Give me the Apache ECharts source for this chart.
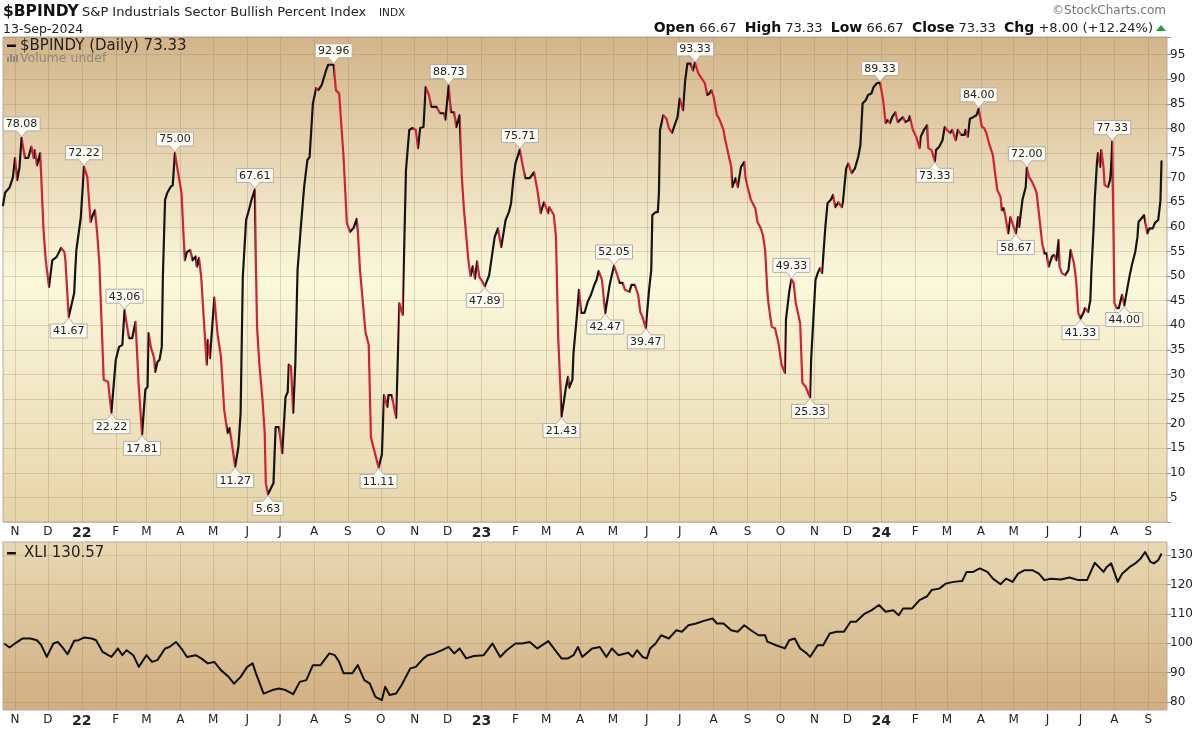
<!DOCTYPE html>
<html><head><meta charset="utf-8">
<script src="https://cdn.jsdelivr.net/npm/echarts@6/dist/echarts.min.js"></script>
<style>html,body{margin:0;padding:0;background:#fff}#c{width:1200px;height:730px}</style>
</head><body><div id="c"></div>
<script>
// ---------- DATA ----------
const bpiDates = ['2021-10-21','2021-10-23','2021-10-27','2021-10-30','2021-11-01','2021-11-03','2021-11-05','2021-11-07','2021-11-10','2021-11-13','2021-11-16','2021-11-18','2021-11-19','2021-11-21','2021-11-24','2021-11-27','2021-11-29','2021-12-02','2021-12-05','2021-12-09','2021-12-13','2021-12-16','2021-12-17','2021-12-20','2021-12-25','2021-12-26','2021-12-27','2021-12-31',
'2022-01-03','2022-01-06','2022-01-09','2022-01-11','2022-01-13','2022-01-15','2022-01-17','2022-01-21','2022-01-25','2022-01-28','2022-02-01','2022-02-04','2022-02-07','2022-02-09','2022-02-13','2022-02-16','2022-02-19','2022-02-22','2022-02-25','2022-02-28','2022-03-02','2022-03-03','2022-03-05','2022-03-08','2022-03-09','2022-03-11','2022-03-13','2022-03-15','2022-03-16','2022-03-18','2022-03-20','2022-03-23','2022-03-25','2022-03-27','2022-03-30','2022-04-02','2022-04-05','2022-04-07','2022-04-10','2022-04-12','2022-04-15','2022-04-16','2022-04-18','2022-04-20','2022-04-22','2022-04-25','2022-04-26','2022-04-28','2022-05-02','2022-05-05','2022-05-08','2022-05-11','2022-05-14','2022-05-16','2022-05-18','2022-05-21','2022-05-24','2022-05-26','2022-05-28','2022-05-31','2022-06-03','2022-06-05','2022-06-08','2022-06-09','2022-06-10','2022-06-12','2022-06-15','2022-06-17','2022-06-18','2022-06-20','2022-06-23','2022-06-25','2022-06-27','2022-06-30','2022-07-03','2022-07-06','2022-07-08','2022-07-09','2022-07-11','2022-07-13','2022-07-15','2022-07-17','2022-07-20','2022-07-23','2022-07-26','2022-07-28','2022-07-31','2022-08-03','2022-08-05','2022-08-08','2022-08-12','2022-08-14','2022-08-19','2022-08-21','2022-08-24','2022-08-28','2022-08-31','2022-09-03','2022-09-06','2022-09-09','2022-09-10','2022-09-12','2022-09-17','2022-09-20','2022-09-22','2022-09-26','2022-09-29','2022-10-02','2022-10-04','2022-10-07','2022-10-08','2022-10-11','2022-10-15','2022-10-16','2022-10-18','2022-10-21','2022-10-24','2022-10-27','2022-10-30','2022-11-02','2022-11-04','2022-11-06','2022-11-09','2022-11-11','2022-11-14','2022-11-16','2022-11-21','2022-11-24','2022-11-28','2022-11-29','2022-12-02','2022-12-04','2022-12-07','2022-12-09','2022-12-12','2022-12-14','2022-12-16','2022-12-20','2022-12-22','2022-12-24','2022-12-26','2022-12-28','2022-12-30',
'2023-01-02','2023-01-04','2023-01-08','2023-01-13','2023-01-16','2023-01-19','2023-01-23','2023-01-26','2023-01-28','2023-01-30','2023-02-01','2023-02-05','2023-02-07','2023-02-10','2023-02-14','2023-02-18','2023-02-21','2023-02-24','2023-02-27','2023-03-03','2023-03-04','2023-03-08','2023-03-10','2023-03-12','2023-03-14','2023-03-15','2023-03-17','2023-03-19','2023-03-21','2023-03-22','2023-03-25','2023-03-26','2023-03-29','2023-03-31','2023-04-02','2023-04-05','2023-04-08','2023-04-11','2023-04-14','2023-04-16','2023-04-18','2023-04-21','2023-04-24','2023-04-28','2023-04-30','2023-05-02','2023-05-05','2023-05-07','2023-05-10','2023-05-12','2023-05-16','2023-05-18','2023-05-21','2023-05-24','2023-05-26','2023-05-28','2023-05-31','2023-06-03','2023-06-05','2023-06-06','2023-06-09','2023-06-11','2023-06-12','2023-06-13','2023-06-16','2023-06-19','2023-06-21','2023-06-24','2023-06-27','2023-06-29','2023-07-01','2023-07-04','2023-07-06','2023-07-08','2023-07-11','2023-07-13','2023-07-15','2023-07-18','2023-07-21','2023-07-24','2023-07-26','2023-07-28','2023-07-30','2023-08-01','2023-08-04','2023-08-06','2023-08-10','2023-08-11','2023-08-14','2023-08-17','2023-08-18','2023-08-21','2023-08-23','2023-08-26','2023-08-29','2023-08-30','2023-09-01','2023-09-04','2023-09-08','2023-09-10','2023-09-13','2023-09-15','2023-09-17','2023-09-19','2023-09-20','2023-09-23','2023-09-26','2023-09-29','2023-10-02','2023-10-05','2023-10-06','2023-10-09','2023-10-11','2023-10-13','2023-10-15','2023-10-19','2023-10-21','2023-10-24','2023-10-28','2023-10-29','2023-10-31','2023-11-02','2023-11-04','2023-11-06','2023-11-08','2023-11-11','2023-11-13','2023-11-16','2023-11-18','2023-11-20','2023-11-23','2023-11-26','2023-11-27','2023-11-30','2023-12-02','2023-12-05','2023-12-08','2023-12-11','2023-12-13','2023-12-15','2023-12-18','2023-12-20','2023-12-23','2023-12-25','2023-12-28','2023-12-31',
'2024-01-03','2024-01-05','2024-01-07','2024-01-09','2024-01-11','2024-01-14','2024-01-16','2024-01-18','2024-01-21','2024-01-23','2024-01-26','2024-01-27','2024-01-30','2024-02-02','2024-02-05','2024-02-06','2024-02-09','2024-02-12','2024-02-13','2024-02-16','2024-02-19','2024-02-20','2024-02-23','2024-02-26','2024-02-28','2024-03-01','2024-03-04','2024-03-06','2024-03-09','2024-03-11','2024-03-14','2024-03-17','2024-03-18','2024-03-20','2024-03-22','2024-03-25','2024-03-28','2024-03-30','2024-04-02','2024-04-04','2024-04-06','2024-04-09','2024-04-12','2024-04-14','2024-04-16','2024-04-19','2024-04-20','2024-04-22','2024-04-24','2024-04-26','2024-04-28','2024-05-01','2024-05-03','2024-05-05','2024-05-06','2024-05-09','2024-05-12','2024-05-13','2024-05-15','2024-05-18','2024-05-21','2024-05-22','2024-05-24','2024-05-27','2024-05-29','2024-05-31','2024-06-02','2024-06-05','2024-06-07','2024-06-09','2024-06-11','2024-06-12','2024-06-14','2024-06-17','2024-06-20','2024-06-22','2024-06-25','2024-06-27','2024-06-29','2024-07-01','2024-07-04','2024-07-05','2024-07-08','2024-07-10','2024-07-11','2024-07-13','2024-07-14','2024-07-16','2024-07-17','2024-07-19','2024-07-20','2024-07-22','2024-07-23','2024-07-26','2024-07-28','2024-07-29','2024-07-30','2024-08-01','2024-08-03','2024-08-05','2024-08-08','2024-08-10','2024-08-13','2024-08-15','2024-08-17','2024-08-20','2024-08-22','2024-08-23','2024-08-26','2024-08-28','2024-08-29','2024-08-31','2024-09-02','2024-09-05','2024-09-07','2024-09-10','2024-09-12','2024-09-13'];
const bpiValues = [64.4,67,68,70,74,69.5,72,78.08,74,74,76.3,74,75.6,72.5,75,59.4,53.3,47.8,53.2,53.9,55.7,54.9,53.2,41.67,46.5,51.2,55.3,61.8,
72.22,70.1,61,62.4,63.4,58.7,52.6,28.9,28.5,22.22,33,35.6,36,43.06,37.4,37.4,40.7,27.5,17.81,26.9,27.5,38.4,35.6,33.3,30.5,32.5,33,35.6,49.8,65.5,66.9,68.1,68.5,75.00,70.9,66.9,53.2,54.9,55.3,53.2,54,51.9,53.7,49.8,42.7,32,37,33.3,45.6,38.1,33.7,22.8,18.1,19.1,16,11.27,15.3,22.2,49.8,61.4,63.8,65.5,67.61,52,39.7,32.4,24.8,18.1,7.9,5.63,7,7.9,19.3,19.3,14,25.4,26.4,32,31.6,22.2,32.4,51.2,60,68.1,73.6,74.2,85.1,88.2,87.8,88.8,91.8,92.96,92.96,87.8,87.1,74.2,60.8,59,59.7,61.6,59.4,51.2,38.7,36,17.2,13.7,11.11,13.7,25.8,23.4,25.8,25.8,21.2,28.9,44.5,42.1,71.5,79.7,80.1,79.7,76,80.1,80.3,88.4,86.8,84.4,84.4,83.1,83.1,81.8,88.73,83.3,83.3,80.3,82.7,70.1,63.4,53.2,50,52,49.5,53,49.8,
48.8,47.89,50.2,57.9,59.7,55.9,61.4,63,64.8,69.5,72.9,75.71,73.2,69.9,69.9,71.1,67.5,62.8,65,62.8,64,62.4,58,37.7,27.5,21.43,24.2,27.3,29.5,27.3,28.9,34.4,41.7,47.2,42.5,42.5,44.8,46.2,48.2,49.2,51,49.2,42.47,48.2,50.2,52.05,50.2,48.6,48.6,47.2,46.8,48.2,48.2,46.2,42.7,41.7,39.47,47.2,51.2,62.4,63,63,66.8,79.7,82.7,82,80.1,79.1,81.1,82.3,86.1,83.7,89.8,93.2,93.2,91.8,93.33,91.2,90.2,89.2,86.8,87.1,87.8,86.4,82.7,82,79.7,78.3,75.2,72.2,68.1,69.9,68.1,72.2,73.2,70.1,68.1,65.5,63.8,61,59.7,58.3,55.3,47,44.5,39.7,39.4,36.6,32,30.3,41.1,46.8,49.33,48.6,44.5,40.4,28.3,27.5,25.33,33,41.1,49.2,50.6,51.6,50.6,60,64.8,65.5,66.5,64,65,64,65,71.9,72.9,70.9,71.9,74.2,76.6,85.1,85.8,86.8,87.1,88.4,89.2,89.33,
85.4,81.1,81.7,81.1,82.3,83.3,81.3,81.7,82.3,81.3,81.7,82.5,79.7,78.3,76,78.3,79.7,80.7,76,75.6,73.33,75.6,76.3,77.6,80.3,79.7,79.1,79.7,77.6,79.7,78.7,78.7,79.7,78.3,82,82.3,82.7,84.00,80.3,80.1,79.1,76.6,74.6,70.9,67.5,66.1,63.4,63.8,61.4,58.7,62,60,58.67,62,60,65.5,68.1,72.00,70.1,69.1,67.5,66.8,62.8,56.7,54.6,54.6,51.9,54,54.3,53.2,57.3,51.9,50.6,50.2,51.2,55.3,52.6,49.2,42.5,41.33,42.7,43.5,42.7,45.1,51.2,60,65.5,72.9,75,72.2,75.6,72.2,68.5,68.1,69.5,72.2,77.33,44.5,43.5,43.5,46.2,44.00,47.8,50.2,52.3,54.9,57.9,61,61.8,62.4,62.4,58.7,59.7,59.7,60.8,61.4,65.33,73.33];

const xliDates = ['2021-10-22','2021-10-27','2021-11-01','2021-11-08','2021-11-15','2021-11-21','2021-11-25','2021-11-30','2021-12-06','2021-12-10','2021-12-14','2021-12-19','2021-12-25','2021-12-29','2022-01-03','2022-01-10','2022-01-14','2022-01-20','2022-01-28','2022-02-03','2022-02-07','2022-02-11','2022-02-17','2022-02-22','2022-03-01','2022-03-06','2022-03-11','2022-03-18','2022-03-22','2022-03-28','2022-04-03','2022-04-07','2022-04-15','2022-04-20','2022-04-26','2022-05-02','2022-05-08','2022-05-15','2022-05-20','2022-05-26','2022-06-01','2022-06-06','2022-06-09','2022-06-16','2022-06-24','2022-06-30','2022-07-06','2022-07-13','2022-07-19','2022-07-25','2022-07-31','2022-08-07','2022-08-15','2022-08-20','2022-08-24','2022-08-28','2022-09-05','2022-09-10','2022-09-16','2022-09-21','2022-09-26','2022-10-02','2022-10-05','2022-10-09','2022-10-15','2022-10-20','2022-10-28','2022-11-02','2022-11-09','2022-11-13','2022-11-19','2022-11-26','2022-12-02','2022-12-07','2022-12-12','2022-12-18','2022-12-25','2023-01-03','2023-01-11','2023-01-18','2023-01-24','2023-02-01','2023-02-07','2023-02-14','2023-02-21','2023-03-03','2023-03-08','2023-03-15','2023-03-21','2023-03-26','2023-03-30','2023-04-03','2023-04-12','2023-04-19','2023-04-25','2023-04-30','2023-05-06','2023-05-15','2023-05-19','2023-05-23','2023-05-28','2023-06-01','2023-06-04','2023-06-09','2023-06-14','2023-06-21','2023-06-28','2023-07-03','2023-07-09','2023-07-16','2023-07-23','2023-07-31','2023-08-04','2023-08-10','2023-08-17','2023-08-23','2023-08-29','2023-09-04','2023-09-11','2023-09-17','2023-09-19','2023-09-27','2023-10-05','2023-10-09','2023-10-14','2023-10-19','2023-10-25','2023-10-28','2023-11-04','2023-11-09','2023-11-15','2023-11-21','2023-11-28','2023-12-04','2023-12-09','2023-12-17','2023-12-23','2023-12-30','2024-01-05','2024-01-12','2024-01-17','2024-01-21','2024-01-29','2024-02-05','2024-02-12','2024-02-16','2024-02-23','2024-02-29','2024-03-07','2024-03-15','2024-03-19','2024-03-25','2024-03-31','2024-04-07','2024-04-12','2024-04-19','2024-04-24','2024-04-30','2024-05-05','2024-05-11','2024-05-18','2024-05-24','2024-05-29','2024-06-04','2024-06-13','2024-06-21','2024-06-29','2024-07-07','2024-07-14','2024-07-19','2024-07-22','2024-07-25','2024-07-29','2024-08-04','2024-08-08','2024-08-15','2024-08-20','2024-08-25','2024-08-29','2024-09-03','2024-09-06','2024-09-10','2024-09-13'];
const xliValues = [99.9,98.5,99.9,101.6,101.6,101,99.3,95.3,99.9,100.4,98.7,96.2,100.8,101,101.9,101.6,101,97,95.3,98.2,95.9,97.6,95.9,91.9,95.9,93.6,94.2,98.2,98.7,100.4,97.6,95.3,95.9,94.8,93.1,93.6,90.8,88.5,86.2,88.5,91.9,93.1,89.7,82.8,84,84.5,84,82.6,86.8,87.4,92.5,92.5,96.5,95.9,93.6,89.7,89.7,92.5,87.4,86.2,81.7,80.6,85.1,82.3,82.8,85.7,91.4,91.9,94.8,95.9,96.5,97.6,98.7,96.5,98.2,94.8,95.6,95.9,99.9,95.3,97.6,99.9,99.9,100.4,98.2,100.7,98.2,94.8,94.8,95.9,98.7,95.3,98.2,98.7,95.3,98.2,95.9,96.7,95.3,97.6,95.3,94.8,98.2,99.9,102.7,101.6,104.4,103.9,106.1,106.7,107.6,108.4,106.7,106.7,104.4,103.9,106.1,104.4,102.7,102.7,100.5,99.3,98.2,101,101.6,98.2,96.5,95.3,99.3,99.3,103.3,103.9,103.9,107.3,107.3,110.1,111.2,113,110.7,111.2,109.5,111.8,111.8,114.7,116,118.1,118.6,120.3,120.9,121.2,124.3,124.3,125.5,124.3,122,120.1,122,120.9,123.7,124.9,124.9,123.7,121.5,122,121.7,122.4,121.5,121.5,127.4,125.5,124.3,126,127.2,120.9,123.7,126,127.2,128.9,131.1,127.7,127.2,128.3,130.57];

const calloutDates = ['2021-11-07','2021-12-20','2022-01-03','2022-01-28','2022-02-09','2022-02-25','2022-03-27','2022-05-21','2022-06-08','2022-06-20','2022-08-19','2022-09-29','2022-12-02','2023-01-04','2023-02-05','2023-03-15','2023-04-24','2023-05-02','2023-05-31','2023-07-15','2023-10-11','2023-10-28','2023-12-31','2024-02-19','2024-03-30','2024-05-03','2024-05-13','2024-07-01','2024-07-30','2024-08-10'];
const calloutValues = [78.08,41.67,72.22,22.22,43.06,17.81,75.00,11.27,67.61,5.63,92.96,11.11,88.73,47.89,75.71,21.43,42.47,52.05,39.47,93.33,49.33,25.33,89.33,73.33,84.00,58.67,72.00,41.33,77.33,44.00];
const calloutSide = ['up','down','up','down','up','down','up','down','up','down','up','down','up','down','up','down','down','up','down','up','up','down','up','down','up','down','up','down','up','down'];

const monthTicks = ['2021-11-01','2021-12-01','2022-01-01','2022-02-01','2022-03-01','2022-04-01','2022-05-01','2022-06-01','2022-07-01','2022-08-01','2022-09-01','2022-10-01','2022-11-01','2022-12-01','2023-01-01','2023-02-01','2023-03-01','2023-04-01','2023-05-01','2023-06-01','2023-07-01','2023-08-01','2023-09-01','2023-10-01','2023-11-01','2023-12-01','2024-01-01','2024-02-01','2024-03-01','2024-04-01','2024-05-01','2024-06-01','2024-07-01','2024-08-01','2024-09-01'];
const monthLabels = ['N','D','22','F','M','A','M','J','J','A','S','O','N','D','23','F','M','A','M','J','J','A','S','O','N','D','24','F','M','A','M','J','J','A','S'];
const xliTicks = [80,90,100,110,120,130];

// ---------- CHART ----------
function ts(s){ const p = s.split('-').map(Number); return Date.UTC(p[0], p[1]-1, p[2]); }
const UP = '#151515', DOWN = '#cf2236';
const FONT = '"DejaVu Sans", Verdana, sans-serif';
const bpiTs = bpiDates.map(ts);
const monthTs = monthTicks.map(ts);
const pieces = [{lt: bpiTs[0], color: UP}];
for (let i = 1; i < bpiTs.length; i++) {
  pieces.push({gte: bpiTs[i-1], lt: bpiTs[i], color: bpiValues[i] >= bpiValues[i-1] ? UP : DOWN});
}
pieces.push({gte: bpiTs[bpiTs.length-1], color: UP});

const gridLine = {show: true, lineStyle: {color: 'rgba(140,115,80,0.25)', width: 1}};
const xMin = ts('2021-10-21'), xMax = ts('2024-09-18');
function monthFmt(val){
  const v = (val && typeof val === 'object') ? val.value : val;
  let best = -1, bd = Infinity;
  for (let i = 0; i < monthTs.length; i++) { const d = Math.abs(monthTs[i] - v); if (d < bd) { bd = d; best = i; } }
  if (best < 0 || bd > 3600000) return '';
  const l = monthLabels[best];
  return /\d/.test(l) ? '{y|' + l + '}' : l;
}
function xAxisCfg(gi){
  return {type: 'value', gridIndex: gi, min: xMin, max: xMax, scale: true,
    axisLine: {show: false},
    axisTick: {show: false, customValues: monthTs},
    axisLabel: {customValues: monthTs, formatter: monthFmt, margin: 4, color: '#222', fontSize: 12, fontFamily: FONT,
      showMinLabel: true, showMaxLabel: true,
      rich: {y: {fontWeight: 'bold', fontSize: 14, fontFamily: FONT, color: '#222'}}},
    splitLine: gridLine};
}

const chart = echarts.init(document.getElementById('c'), null, {renderer: 'canvas'});
chart.setOption({
  animation: false,
  backgroundColor: '#fff',
  grid: [
    {left: 3, right: 33, top: 37, height: 485, show: true, borderColor: '#bda79f', borderWidth: 1,
     backgroundColor: new echarts.graphic.LinearGradient(0,0,0,1,[{offset:0,color:'#d3b489'},{offset:0.5,color:'#fbf8dc'},{offset:1,color:'#e6d4a9'}])},
    {left: 3, right: 33, top: 542, height: 168, show: true, borderColor: '#bda79f', borderWidth: 1,
     backgroundColor: new echarts.graphic.LinearGradient(0,0,0,1,[{offset:0,color:'#e8d9b3'},{offset:1,color:'#d1ae80'}])}
  ],
  xAxis: [xAxisCfg(0), xAxisCfg(1)],
  yAxis: [
    {type: 'value', gridIndex: 0, position: 'right', min: 0, max: 98.6, interval: 5,
     axisLine: {show: false}, axisTick: {show: true, length: 4, lineStyle: {color: '#9a8a80'}},
     axisLabel: {formatter: v => (v > 0 && v <= 95 && Math.abs(v % 5) < 1e-6) ? String(v) : '', margin: 3, color: '#222', fontSize: 12, fontFamily: FONT},
     splitLine: gridLine},
    {type: 'value', gridIndex: 1, position: 'right', min: 77.2, max: 134.5,
     axisLine: {show: false}, axisTick: {show: true, length: 4, customValues: xliTicks, lineStyle: {color: '#9a8a80'}},
     axisLabel: {customValues: xliTicks, margin: 3, color: '#222', fontSize: 12, fontFamily: FONT},
     splitLine: gridLine}
  ],
  visualMap: [{type: 'piecewise', show: false, dimension: 0, seriesIndex: 0, pieces: pieces}],
  series: [
    {type: 'line', xAxisIndex: 0, yAxisIndex: 0, data: bpiDates.map((d, i) => [ts(d), bpiValues[i]]),
     showSymbol: false, lineStyle: {width: 2.2, join: 'round', cap: 'round'}, z: 3},
    {type: 'line', xAxisIndex: 1, yAxisIndex: 1, data: xliDates.map((d, i) => [ts(d), xliValues[i]]),
     showSymbol: false, lineStyle: {width: 2, color: '#111', join: 'round'}, itemStyle: {color: '#111'}, z: 3},
    {type: 'custom', xAxisIndex: 0, yAxisIndex: 0, z: 6, silent: true, clip: false,
     data: calloutDates.map((d, i) => [ts(d), calloutValues[i], calloutSide[i] === 'up' ? 1 : -1]),
     encode: {x: 0, y: 1},
     renderItem: function(params, api){
       const p = api.coord([api.value(0), api.value(1)]);
       const dir = api.value(2);
       const txt = Number(api.value(1)).toFixed(2);
       const w = txt.length * 6.6 + 4, h = 14, g = 7, a = 5;
       const x0 = p[0] - w/2, x1 = p[0] + w/2;
       let pts, ty;
       if (dir > 0) {
         const b1 = p[1] - g, b0 = b1 - h;
         pts = [[x0,b0],[x1,b0],[x1,b1],[p[0]+a,b1],[p[0],p[1]-1],[p[0]-a,b1],[x0,b1]];
         ty = (b0 + b1) / 2;
       } else {
         const b0 = p[1] + g, b1 = b0 + h;
         pts = [[x0,b0],[p[0]-a,b0],[p[0],p[1]+1],[p[0]+a,b0],[x1,b0],[x1,b1],[x0,b1]];
         ty = (b0 + b1) / 2;
       }
       return {type: 'group', children: [
         {type: 'polygon', shape: {points: pts}, style: {fill: '#fbfbf4', stroke: '#b5aca4', lineWidth: 1}},
         {type: 'text', style: {text: txt, x: p[0], y: ty + 0.5, align: 'center', verticalAlign: 'middle', font: '11px ' + FONT, fill: '#222'}}
       ]};
     }}
  ],
  graphic: [
    {type: 'text', x: 3, y: 12, style: {text: '$BPINDY', font: 'bold 15.5px ' + FONT, fill: '#111', verticalAlign: 'middle'}},
    {type: 'text', x: 82, y: 12.5, style: {text: 'S&P Industrials Sector Bullish Percent Index', font: '13px ' + FONT, fill: '#222', verticalAlign: 'middle'}},
    {type: 'text', x: 379, y: 13, style: {text: 'INDX', font: '10.5px ' + FONT, fill: '#222', verticalAlign: 'middle'}},
    {type: 'text', x: 3, y: 29.5, style: {text: '13-Sep-2024', font: '12.5px ' + FONT, fill: '#222', verticalAlign: 'middle'}},
    {type: 'text', x: 1166, y: 11, style: {text: '\u00A9StockCharts.com', font: '12px ' + FONT, fill: '#777', align: 'right', verticalAlign: 'middle'}},
    {type: 'text', x: 1153, y: 28.5, style: {
      text: '{b|Open} 66.67  {b|High} 73.33  {b|Low} 66.67  {b|Close} 73.33  {b|Chg} +8.00 (+12.24%)',
      font: '13px ' + FONT, fill: '#222', align: 'right', verticalAlign: 'middle',
      rich: {b: {fontWeight: 'bold', fontSize: 14, fontFamily: FONT, fill: '#111'}}}},
    {type: 'polygon', shape: {points: [[1156,31],[1166,31],[1161,25]]}, style: {fill: '#2f9a3a'}},
    {type: 'rect', shape: {x: 7, y: 44.5, width: 9, height: 2.5}, style: {fill: '#111'}},
    {type: 'text', x: 20, y: 46, style: {text: '$BPINDY (Daily) 73.33', font: '15px ' + FONT, fill: '#222', verticalAlign: 'middle'}},
    {type: 'rect', shape: {x: 7, y: 57, width: 2, height: 5}, style: {fill: '#8c8a84'}},
    {type: 'rect', shape: {x: 10, y: 54, width: 2, height: 8}, style: {fill: '#8c8a84'}},
    {type: 'rect', shape: {x: 13, y: 56, width: 2, height: 6}, style: {fill: '#8c8a84'}},
    {type: 'rect', shape: {x: 16, y: 55, width: 2, height: 7}, style: {fill: '#8c8a84'}},
    {type: 'text', x: 20, y: 58.5, style: {text: 'Volume undef', font: '12.5px ' + FONT, fill: '#8a887f', verticalAlign: 'middle'}},
    {type: 'rect', shape: {x: 7, y: 552, width: 9, height: 2.5}, style: {fill: '#111'}},
    {type: 'text', x: 24, y: 553.5, style: {text: 'XLI 130.57', font: '15px ' + FONT, fill: '#222', verticalAlign: 'middle'}}
  ]
});
</script>
</body></html>
